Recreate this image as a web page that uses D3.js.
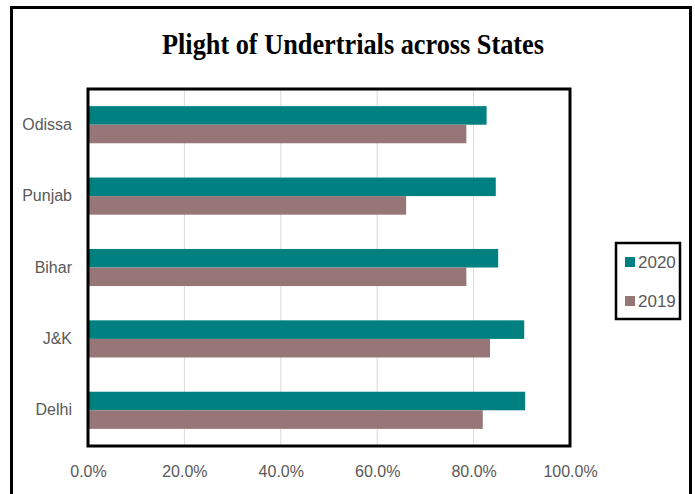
<!DOCTYPE html>
<html>
<head>
<meta charset="utf-8">
<script src="https://cdn.jsdelivr.net/npm/d3@7"></script>
<style>
  html, body { margin: 0; padding: 0; background: #fff; }
  svg { display: block; }
</style>
</head>
<body>
<svg id="chart" width="695" height="494"></svg>
<script>
// Share of undertrial prisoners by state, 2019 vs 2020
const states = ["Odissa", "Punjab", "Bihar", "J&K", "Delhi"];
const seriesNames = ["2020", "2019"];
const values2020 = [0.827, 0.846, 0.851, 0.905, 0.907];
const values2019 = [0.785, 0.660, 0.785, 0.834, 0.819];
const tickValues = [0, 0.2, 0.4, 0.6, 0.8, 1.0];
const colors = { "2020": "#008080", "2019": "#967676" };

const svg = d3.select("#chart");
const plot = { left: 88, right: 570, top: 89, bottom: 446 };

// Outer frame
svg.append("rect")
  .attr("x", 11.5).attr("y", 7.5)
  .attr("width", 679).attr("height", 500)
  .attr("fill", "#fff").attr("stroke", "#000").attr("stroke-width", 3);

// Title
svg.append("text")
  .attr("x", 353).attr("y", 54)
  .attr("text-anchor", "middle")
  .attr("font-family", "'Liberation Serif', 'Times New Roman', serif")
  .attr("font-weight", "bold")
  .attr("font-size", 30)
  .attr("textLength", 382)
  .attr("lengthAdjust", "spacingAndGlyphs")
  .attr("fill", "#000")
  .text("Plight of Undertrials across States");

const x = d3.scaleLinear().domain([0, 1]).range([plot.left, plot.right]);
const y = d3.scaleBand().domain(states).range([plot.top, plot.bottom]).paddingInner(0.48).paddingOuter(0.24);
const ySub = d3.scaleBand().domain(seriesNames).range([0, y.bandwidth()]);

// Vertical gridlines
svg.append("g")
  .selectAll("line")
  .data(tickValues.slice(1, -1))
  .join("line")
  .attr("x1", d => x(d)).attr("x2", d => x(d))
  .attr("y1", plot.top).attr("y2", plot.bottom)
  .attr("stroke", "#d9d9d9").attr("stroke-width", 1);

// Bars
const rows = states.map((s, i) => ({ state: s, "2020": values2020[i], "2019": values2019[i] }));
const groups = svg.append("g")
  .selectAll("g")
  .data(rows)
  .join("g")
  .attr("transform", d => `translate(0,${y(d.state)})`);

groups.selectAll("rect")
  .data(d => seriesNames.map(k => ({ key: k, value: d[k] })))
  .join("rect")
  .attr("x", x(0))
  .attr("y", d => ySub(d.key))
  .attr("width", d => x(d.value) - x(0))
  .attr("height", ySub.bandwidth())
  .attr("fill", d => colors[d.key]);

// Plot frame
svg.append("rect")
  .attr("x", plot.left).attr("y", plot.top)
  .attr("width", plot.right - plot.left).attr("height", plot.bottom - plot.top)
  .attr("fill", "none").attr("stroke", "#000").attr("stroke-width", 3);

const labelFont = "'Liberation Sans Narrow', 'Arial Narrow', 'Liberation Sans', sans-serif";

// X axis
const xAxis = d3.axisBottom(x)
  .tickValues(tickValues)
  .tickFormat(d3.format(".1%"))
  .tickSize(0)
  .tickPadding(20);
const gx = svg.append("g")
  .attr("transform", `translate(0,${plot.bottom})`)
  .call(xAxis);
gx.select(".domain").remove();
gx.selectAll("text")
  .attr("font-family", labelFont)
  .attr("font-size", 16)
  .attr("fill", "#595959");

// Y axis
const yAxis = d3.axisLeft(y).tickSize(0).tickPadding(16);
const gy = svg.append("g")
  .attr("transform", `translate(${plot.left},0)`)
  .call(yAxis);
gy.select(".domain").remove();
gy.selectAll("text")
  .attr("font-family", labelFont)
  .attr("font-size", 16)
  .attr("fill", "#595959");

// Legend
const legend = svg.append("g");
legend.append("rect")
  .attr("x", 616).attr("y", 243)
  .attr("width", 64).attr("height", 76)
  .attr("fill", "#fff").attr("stroke", "#000").attr("stroke-width", 2.5);
const items = legend.selectAll("g.item")
  .data(seriesNames)
  .join("g")
  .attr("class", "item")
  .attr("transform", (d, i) => `translate(625,${257 + i * 39})`);
items.append("rect")
  .attr("width", 10).attr("height", 10)
  .attr("fill", d => colors[d]);
items.append("text")
  .attr("x", 13).attr("y", 11)
  .attr("font-family", labelFont)
  .attr("font-size", 17)
  .attr("fill", "#595959")
  .text(d => d);
</script>
</body>
</html>
